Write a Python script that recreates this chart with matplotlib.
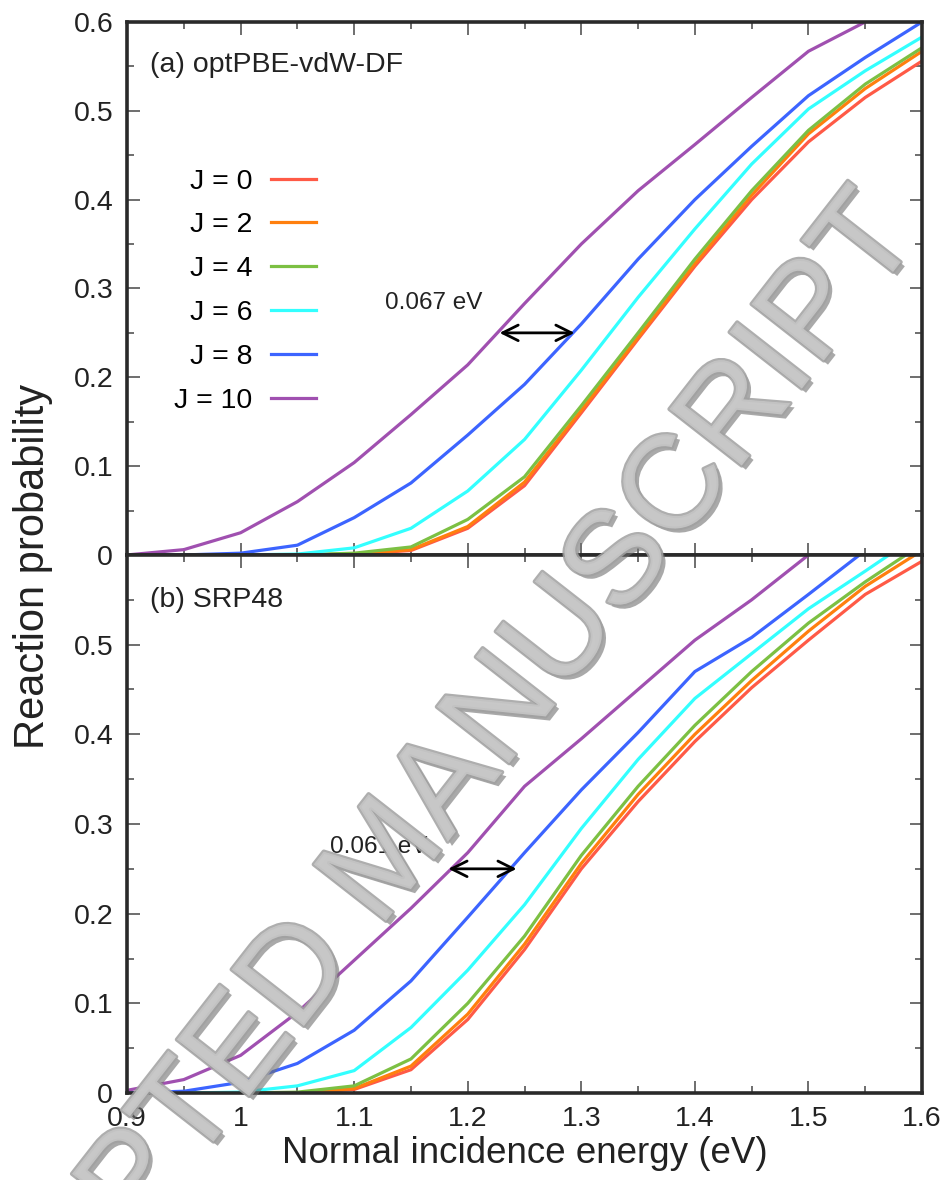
import numpy as np
import matplotlib.pyplot as plt
from matplotlib.ticker import MultipleLocator, FuncFormatter
import matplotlib.patheffects as pe

plt.rcParams['font.family'] = ['Liberation Sans', 'DejaVu Sans']

# normal incidence energy grid (eV)
energy = [0.90, 0.95, 1.00, 1.05, 1.10, 1.15, 1.20, 1.25, 1.30, 1.35, 1.40, 1.45, 1.50, 1.55, 1.60]
j_labels = ["J = 0", "J = 2", "J = 4", "J = 6", "J = 8", "J = 10"]
j_colors = ["#ff5a46", "#ff7f0e", "#7cc043", "#33ffff", "#3c64ff", "#a050b0"]

# (a) optPBE-vdW-DF
opt_j0 = [0, 0, 0, 0, 0.001, 0.005, 0.030, 0.078, 0.160, 0.243, 0.325, 0.400, 0.465, 0.515, 0.556]
opt_j2 = [0, 0, 0, 0, 0.001, 0.006, 0.032, 0.082, 0.163, 0.245, 0.328, 0.405, 0.474, 0.525, 0.567]
opt_j4 = [0, 0, 0, 0, 0.002, 0.009, 0.040, 0.088, 0.168, 0.250, 0.333, 0.410, 0.478, 0.530, 0.571]
opt_j6 = [0, 0, 0, 0.001, 0.008, 0.030, 0.072, 0.130, 0.208, 0.290, 0.367, 0.440, 0.502, 0.545, 0.583]
opt_j8 = [0, 0, 0.002, 0.011, 0.042, 0.081, 0.135, 0.192, 0.260, 0.333, 0.400, 0.460, 0.517, 0.560, 0.600]
opt_j10 = [0, 0.006, 0.025, 0.060, 0.104, 0.158, 0.214, 0.283, 0.350, 0.410, 0.462, 0.515, 0.567, 0.600, 0.632]

# (b) SRP48
srp_j0 = [0, 0, 0, 0, 0.004, 0.026, 0.082, 0.160, 0.250, 0.325, 0.392, 0.452, 0.505, 0.556, 0.593]
srp_j2 = [0, 0, 0, 0, 0.005, 0.030, 0.088, 0.166, 0.256, 0.333, 0.400, 0.460, 0.515, 0.565, 0.605]
srp_j4 = [0, 0, 0, 0.001, 0.008, 0.038, 0.100, 0.175, 0.265, 0.342, 0.410, 0.470, 0.524, 0.570, 0.612]
srp_j6 = [0, 0, 0.001, 0.008, 0.025, 0.073, 0.137, 0.210, 0.295, 0.372, 0.440, 0.490, 0.540, 0.582, 0.625]
srp_j8 = [0, 0.002, 0.012, 0.033, 0.070, 0.125, 0.196, 0.268, 0.338, 0.402, 0.470, 0.508, 0.556, 0.605, 0.650]
srp_j10 = [0.003, 0.015, 0.042, 0.090, 0.148, 0.206, 0.268, 0.342, 0.395, 0.450, 0.505, 0.550, 0.600, 0.645, 0.690]

opt_curves = [opt_j0, opt_j2, opt_j4, opt_j6, opt_j8, opt_j10]
srp_curves = [srp_j0, srp_j2, srp_j4, srp_j6, srp_j8, srp_j10]

# shift arrows: (left E, right E, prob level)
opt_shift = (1.228, 1.294, 0.25)
srp_shift = (1.183, 1.243, 0.25)


def fmt(v, pos):
    return f"{v:g}"


def style_axes(ax, show_x, hide_top_y):
    ax.set_xlim(0.9, 1.6)
    ax.set_ylim(0, 0.6)
    ax.xaxis.set_major_locator(MultipleLocator(0.1))
    ax.xaxis.set_minor_locator(MultipleLocator(0.05))
    ax.yaxis.set_major_locator(MultipleLocator(0.1))
    ax.yaxis.set_minor_locator(MultipleLocator(0.05))
    ax.tick_params(which='both', direction='in', top=True, right=True,
                   color='#555555', width=1.2)
    ax.tick_params(which='major', length=9, labelsize=20.5, labelcolor='#222222')
    ax.tick_params(which='minor', length=5)
    ax.tick_params(axis='y', pad=10)
    ax.tick_params(axis='x', pad=9)
    for s in ax.spines.values():
        s.set_linewidth(2.6)
        s.set_color('#2a2a2a')
    if show_x:
        ax.xaxis.set_major_formatter(FuncFormatter(fmt))
    else:
        ax.tick_params(axis='x', labelbottom=False)
    if hide_top_y:
        ax.yaxis.set_major_formatter(FuncFormatter(lambda v, p: "" if v > 0.55 else f"{v:g}"))
    else:
        ax.yaxis.set_major_formatter(FuncFormatter(fmt))


fig = plt.figure(figsize=(9.48, 11.8), dpi=100)
ax1 = fig.add_axes([0.134, 0.5297, 0.8386, 0.4517])
ax2 = fig.add_axes([0.134, 0.0737, 0.8386, 0.4560])

lines = []
for curve, lab, col in zip(opt_curves, j_labels, j_colors):
    ln, = ax1.plot(energy, curve, color=col, lw=2.3, label=lab)
    lines.append(ln)
for curve, lab, col in zip(srp_curves, j_labels, j_colors):
    ax2.plot(energy, curve, color=col, lw=2.3)

style_axes(ax1, show_x=False, hide_top_y=False)
style_axes(ax2, show_x=True, hide_top_y=True)

ax1.legend(handles=lines, loc='upper right', bbox_to_anchor=(0.238, 0.725),
           markerfirst=False, frameon=False, fontsize=20.5, handlelength=1.6,
           handletextpad=0.65, labelspacing=0.63, borderpad=0, borderaxespad=0)

ax1.text(0.029, 0.92, "(a) optPBE-vdW-DF", transform=ax1.transAxes,
         fontsize=20.5, color='#222222', va='center', ha='left')
ax2.text(0.029, 0.916, "(b) SRP48", transform=ax2.transAxes,
         fontsize=20.5, color='#222222', va='center', ha='left')

for ax, (e0, e1, p), txt, tx, dy in [(ax1, opt_shift, "0.067 eV", 1.127, 0.034),
                                     (ax2, srp_shift, "0.061 eV", 1.079, 0.024)]:
    ax.annotate('', xy=(e1, p), xytext=(e0, p),
                arrowprops=dict(arrowstyle='<->', color='black', lw=2.0,
                                mutation_scale=28, shrinkA=0, shrinkB=0))
    ax.text(tx, p + dy, txt, fontsize=17.5, color='#222222', va='center', ha='left')

ax2.set_xlabel("Normal incidence energy (eV)", fontsize=26.5, labelpad=3, color='#222222')
fig.text(0.035, 0.52, "Reaction probability", rotation=90, fontsize=30,
         ha='center', va='center', color='#222222')

# diagonal watermark
fig.text(0.41, 0.270, "ACCEPTED MANUSCRIPT", rotation=52, rotation_mode='anchor',
         fontsize=96, color='#c8c8c8', ha='center', va='center', alpha=0.85,
         zorder=10,
         path_effects=[pe.withSimplePatchShadow(offset=(3, -3), shadow_rgbFace='#707070', alpha=0.6),
                       pe.Stroke(linewidth=3, foreground='#a0a0a0'), pe.Normal()])

fig.savefig("out.png", dpi=100)
